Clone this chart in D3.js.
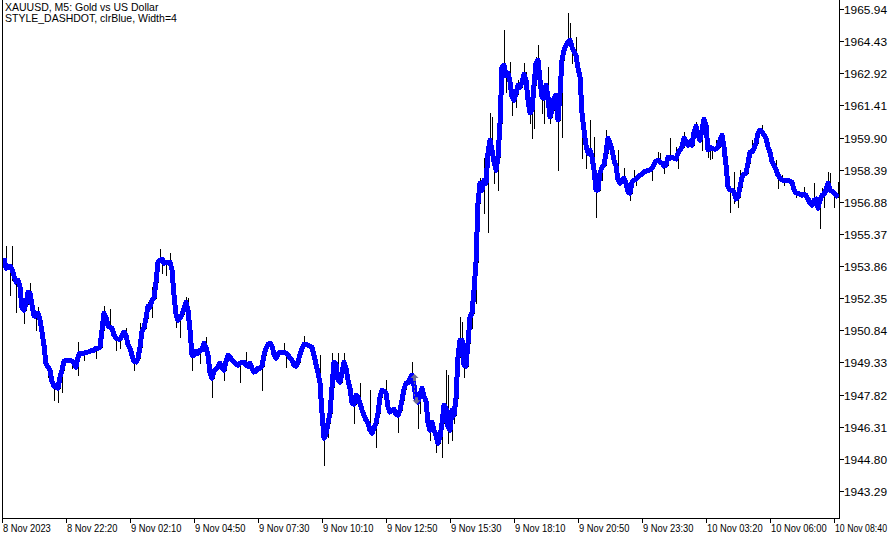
<!DOCTYPE html>
<html><head><meta charset="utf-8">
<script src="https://cdn.jsdelivr.net/npm/d3@7/dist/d3.min.js"></script>
<style>html,body{margin:0;padding:0;background:#fff;}svg{display:block;}</style>
</head><body>
<script>
const titleLines = ["XAUUSD, M5:  Gold vs US Dollar", "STYLE_DASHDOT, clrBlue, Width=4"];
const priceTicks = [1943.29,1944.80,1946.31,1947.82,1949.33,1950.84,1952.35,1953.86,1955.37,1956.88,1958.39,1959.90,1961.41,1962.92,1964.43,1965.94];
const timeTickBars = [0,32,64,96,128,160,192,224,256,288,320,352,384,416];
const timeTickLabels = ["8 Nov 2023","8 Nov 22:20","9 Nov 02:10","9 Nov 04:50","9 Nov 07:30","9 Nov 10:10","9 Nov 12:50","9 Nov 15:30","9 Nov 18:10","9 Nov 20:50","9 Nov 23:30","10 Nov 03:20","10 Nov 06:00","10 Nov 08:40"];
const closes = [
1954.23,1953.76,1953.81,1953.86,1953.72,1953.39,1953.11,1953.20,1952.87,1951.88,
1951.79,1952.07,1952.64,1952.59,1952.02,1951.51,1951.51,1951.65,1951.32,1950.76,
1950.14,1949.25,1949.11,1948.97,1948.45,1948.22,1948.17,1948.12,1948.64,1948.97,
1949.39,1949.44,1949.44,1949.44,1949.39,1949.30,1949.11,1949.58,1949.77,1949.77,
1949.77,1949.82,1949.82,1949.86,1949.91,1949.91,1950.00,1950.00,1950.05,1950.85,
1951.65,1951.46,1951.04,1950.99,1950.94,1950.61,1950.47,1950.43,1950.43,1950.57,
1950.76,1950.61,1950.14,1950.00,1949.67,1949.39,1949.35,1949.53,1950.05,1950.80,
1950.94,1951.41,1951.98,1951.93,1952.26,1952.35,1953.11,1954.05,1954.14,1954.19,
1954.00,1954.05,1954.05,1954.05,1953.67,1952.49,1951.60,1951.32,1951.41,1951.60,
1951.88,1952.17,1951.79,1950.85,1949.67,1949.67,1949.86,1949.77,1949.91,1949.91,
1950.24,1950.05,1949.67,1948.83,1948.59,1948.92,1949.02,1949.11,1949.30,1949.06,
1948.97,1949.39,1949.67,1949.58,1949.44,1949.35,1949.25,1949.20,1949.30,1949.35,
1949.35,1949.20,1949.16,1949.30,1949.06,1948.88,1948.92,1949.06,1949.06,1949.16,
1949.67,1950.00,1950.19,1950.24,1950.10,1949.72,1949.53,1949.72,1949.82,1949.82,
1949.82,1949.77,1949.67,1949.53,1949.44,1949.20,1949.16,1949.35,1949.72,1950.00,
1950.19,1950.19,1950.14,1950.10,1950.05,1949.67,1949.25,1948.83,1948.36,1946.95,
1945.77,1945.96,1946.48,1946.95,1948.17,1949.35,1949.25,1948.50,1948.41,1948.83,
1949.35,1949.06,1948.50,1948.12,1947.42,1947.37,1947.79,1947.70,1947.42,1947.09,
1946.85,1946.62,1946.48,1946.15,1946.01,1946.24,1946.48,1946.95,1947.70,1948.03,
1947.98,1947.89,1947.23,1947.00,1947.09,1947.14,1946.90,1946.85,1947.09,1947.56,
1948.08,1948.36,1948.36,1948.59,1948.73,1948.26,1947.65,1947.47,1947.79,1948.12,
1947.75,1947.51,1946.48,1946.15,1946.53,1946.15,1945.91,1945.54,1945.82,1946.48,
1947.32,1947.18,1946.29,1946.15,1947.09,1946.85,1947.65,1949.58,1950.38,1950.38,
1949.20,1949.16,1950.24,1951.46,1951.65,1952.73,1954.05,1956.82,1957.76,1957.43,
1957.90,1957.76,1959.17,1959.78,1959.31,1958.75,1958.37,1958.98,1960.58,1963.21,
1963.30,1962.79,1962.93,1962.51,1961.80,1961.66,1961.94,1962.36,1962.27,1962.51,
1962.88,1962.60,1961.66,1961.05,1961.19,1962.36,1963.40,1963.54,1962.60,1961.80,
1961.75,1962.36,1961.80,1960.86,1961.19,1961.75,1961.89,1960.72,1961.99,1963.54,
1964.01,1964.24,1964.39,1964.48,1964.15,1963.96,1963.77,1963.16,1962.74,1961.05,
1960.25,1959.54,1959.17,1959.31,1958.98,1958.37,1957.43,1957.43,1958.23,1958.51,
1958.60,1959.17,1959.87,1959.64,1959.31,1958.84,1958.56,1957.90,1957.76,1957.90,
1957.99,1957.76,1957.34,1957.29,1957.81,1957.90,1957.95,1958.04,1958.13,1958.18,
1958.28,1958.32,1958.37,1958.37,1958.46,1958.65,1958.79,1958.84,1958.75,1958.70,
1958.56,1958.60,1958.98,1958.93,1958.98,1958.93,1958.89,1959.17,1959.31,1959.45,
1959.87,1959.73,1959.54,1959.69,1959.54,1960.16,1960.44,1960.01,1959.78,1960.25,
1960.77,1960.48,1959.31,1959.45,1959.40,1959.36,1959.36,1959.45,1959.78,1960.01,
1959.45,1958.60,1957.57,1957.43,1957.43,1957.34,1957.01,1957.10,1957.57,1958.04,
1958.18,1958.23,1958.70,1959.22,1959.22,1959.40,1959.64,1960.11,1960.25,1960.16,
1960.01,1959.87,1959.45,1959.22,1958.75,1958.60,1958.42,1958.13,1957.99,1957.90,
1957.90,1957.90,1957.90,1957.85,1957.81,1957.43,1957.29,1957.29,1957.24,1957.19,
1957.24,1957.19,1957.01,1956.82,1956.72,1956.96,1957.01,1956.58,1956.96,1957.19,
1957.24,1957.43,1957.76,1957.43,1957.38,1957.29,1957.19,1957.10
];
// visible wick extremes: [bar index, price]
const wickHighs = [[1,1954.80],[4,1954.80],[13,1953.06],[17,1951.93],[37,1950.29],[50,1951.98],[53,1951.84],[61,1950.94],[68,1951.18],[72,1952.17],[74,1952.87],[78,1954.66],[83,1954.47],[91,1952.40],[92,1952.35],[101,1950.52],[121,1949.82],[140,1950.24],[150,1950.57],[158,1949.67],[164,1949.77],[167,1949.77],[170,1949.77],[172,1948.97],[178,1948.36],[183,1948.03],[191,1948.50],[204,1949.35],[221,1948.97],[222,1948.73],[228,1951.46],[229,1951.23],[234,1952.40],[238,1957.99],[240,1958.93],[243,1961.05],[244,1960.86],[250,1964.95],[253,1963.45],[257,1962.60],[260,1963.40],[261,1962.98],[266,1963.68],[267,1964.25],[272,1963.21],[282,1965.75],[283,1965.28],[286,1964.62],[293,1960.72],[295,1959.92],[301,1960.25],[303,1959.69],[305,1959.31],[307,1959.31],[310,1958.46],[315,1958.37],[327,1959.22],[328,1959.17],[333,1959.87],[336,1959.45],[338,1959.69],[340,1960.16],[342,1959.78],[344,1959.69],[346,1960.63],[350,1960.86],[356,1959.78],[359,1960.11],[365,1958.28],[368,1958.37],[371,1958.60],[374,1959.78],[375,1959.87],[379,1960.49],[386,1958.84],[389,1958.13],[395,1957.81],[400,1957.57],[405,1957.76],[409,1957.52],[412,1958.28],[413,1958.23],[417,1957.81]];
const wickLows = [[3,1952.50],[4,1953.20],[6,1951.70],[8,1952.26],[10,1951.18],[16,1950.85],[22,1948.64],[25,1947.56],[27,1947.47],[29,1947.94],[34,1949.06],[37,1948.73],[40,1949.44],[46,1949.53],[56,1949.91],[58,1950.00],[65,1948.97],[74,1951.46],[79,1953.53],[81,1953.43],[86,1950.99],[88,1950.52],[94,1948.97],[98,1949.30],[104,1947.70],[110,1948.50],[118,1948.41],[129,1948.03],[141,1949.11],[160,1944.51],[162,1945.82],[175,1946.48],[186,1945.35],[197,1946.06],[207,1946.24],[208,1946.95],[213,1945.68],[216,1945.12],[219,1944.88],[222,1945.54],[224,1945.68],[225,1946.48],[230,1948.64],[234,1950.94],[236,1952.12],[240,1956.35],[242,1955.46],[245,1957.76],[247,1957.43],[249,1961.33],[251,1962.04],[254,1960.96],[256,1961.33],[263,1960.58],[264,1959.87],[265,1960.34],[269,1961.05],[270,1960.58],[273,1960.58],[277,1958.37],[279,1959.92],[284,1963.40],[288,1961.80],[289,1958.93],[291,1958.46],[294,1958.51],[296,1956.16],[299,1957.90],[313,1956.96],[316,1957.66],[324,1957.90],[330,1958.23],[337,1958.46],[349,1959.31],[352,1958.98],[353,1958.89],[354,1958.93],[363,1956.40],[365,1956.82],[367,1956.63],[387,1957.52],[390,1957.66],[396,1957.10],[401,1957.05],[404,1956.63],[407,1956.49],[408,1955.65],[410,1956.63],[415,1956.63]];
// trade arrows: [bar index, price, direction]
const tradeArrows = [[205,1948.60,"buy"],[206,1947.55,"sell"]];

const W = 892, H = 543;
const svg = d3.select("body").append("svg").attr("width", W).attr("height", H);
svg.append("rect").attr("width", W).attr("height", H).attr("fill", "#fff");

const x = d3.scaleLinear().domain([0, closes.length - 1]).range([4, 838]);
const y = d3.scaleLinear().domain([1943.29, 1965.94]).range([491, 9]);

const plotL = 2.5, plotR = 839.5, plotB = 518.5;
const font = "'Liberation Sans', Arial, sans-serif";

// bars
const hiMap = new Map(wickHighs), loMap = new Map(wickLows);
const bars = closes.map((c, i) => {
  const o = i ? closes[i - 1] : c;
  let h = Math.max(o, c), l = Math.min(o, c);
  if (hiMap.has(i)) h = Math.max(h, hiMap.get(i));
  if (loMap.has(i)) l = Math.min(l, loMap.get(i));
  return {i, h, l};
});
svg.append("g").attr("shape-rendering", "crispEdges").selectAll("line").data(bars).join("line")
  .attr("x1", d => Math.round(x(d.i)) + 0.5).attr("x2", d => Math.round(x(d.i)) + 0.5)
  .attr("y1", d => Math.round(y(d.h))).attr("y2", d => Math.round(y(d.l)) + 1)
  .attr("stroke", "#000").attr("stroke-width", 1);

// blue line
svg.append("path").datum(closes)
  .attr("d", d3.line().x((d, i) => x(i)).y(d => y(d)))
  .attr("fill", "none").attr("stroke", "#0000ff").attr("stroke-width", 5)
  .attr("stroke-linejoin", "round").attr("shape-rendering", "crispEdges");

// trade arrows
const ag = svg.append("g");
const a0 = tradeArrows[0], a1 = tradeArrows[1];
ag.append("line").attr("x1", x(a0[0]) + 0.5).attr("x2", x(a0[0]) + 0.5)
  .attr("y1", y(a0[1]) + 4).attr("y2", y(a1[1]) - 4)
  .attr("stroke", "#6f6f8f").attr("stroke-dasharray", "2,2");
tradeArrows.forEach(a => {
  const cx = x(a[0]) + 0.5, cy = y(a[1]);
  const p = a[2] === "buy"
    ? [[0,-4],[4,0],[1.5,0],[1.5,3],[-1.5,3],[-1.5,0],[-4,0]]
    : [[0,4],[4,0],[1.5,0],[1.5,-3],[-1.5,-3],[-1.5,0],[-4,0]];
  ag.append("polygon").attr("points", p.map(q => [cx + q[0], cy + q[1]].join(",")).join(" "))
    .attr("fill", "#6f6f8f");
});

// frame
const fg = svg.append("g").attr("stroke", "#000").attr("stroke-width", 1).attr("fill", "none").attr("shape-rendering", "crispEdges");
fg.append("line").attr("x1", plotL).attr("x2", plotL).attr("y1", 0).attr("y2", plotB);
fg.append("line").attr("x1", plotR).attr("x2", plotR).attr("y1", 0).attr("y2", plotB);
fg.append("line").attr("x1", plotL).attr("x2", plotR).attr("y1", plotB).attr("y2", plotB);

function fitText(sel, target) {
  sel.each(function() {
    const n = this.getComputedTextLength();
    if (n > 0) d3.select(this).attr("textLength", target(n)).attr("lengthAdjust", "spacingAndGlyphs");
  });
}

// price axis
const pa = svg.append("g");
priceTicks.forEach(p => {
  const yy = Math.round(y(p)) + 0.5;
  pa.append("line").attr("x1", plotR).attr("x2", plotR + 4).attr("y1", yy).attr("y2", yy)
    .attr("stroke", "#000").attr("shape-rendering", "crispEdges");
  pa.append("text").attr("x", plotR + 4.5).attr("y", yy + 4).text(p.toFixed(2))
    .attr("font-family", font).attr("font-size", "11px").attr("fill", "#000")
    .call(fitText, () => 43);
});

// time axis
const ta = svg.append("g");
timeTickBars.forEach((b, k) => {
  const xx = Math.round(x(b)) - 1.5;
  const last = k === timeTickBars.length - 1;
  ta.append("line").attr("x1", xx).attr("x2", xx).attr("y1", plotB).attr("y2", plotB + 4)
    .attr("stroke", "#000").attr("shape-rendering", "crispEdges");
  ta.append("text").attr("x", xx + 0.5).attr("y", 532).text(timeTickLabels[k])
    .attr("font-family", font).attr("font-size", last ? "10px" : "11px").attr("fill", "#000")
    .call(fitText, n => last ? Math.min(n, 52) : n * 0.85);
});

// title
titleLines.forEach((t, k) => {
  svg.append("text").attr("x", 5).attr("y", 10.5 + k * 11).text(t)
    .attr("font-family", font).attr("font-size", "10.5px").attr("fill", "#000");
});
</script>
</body></html>
